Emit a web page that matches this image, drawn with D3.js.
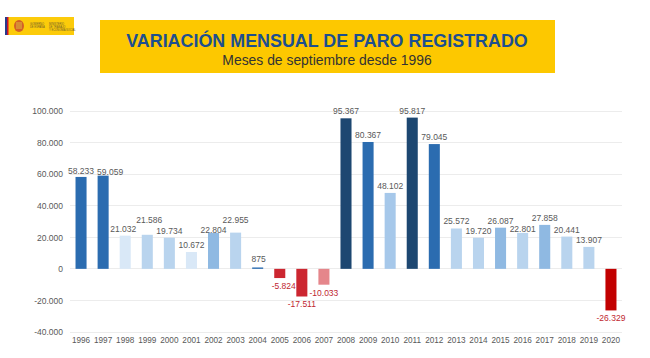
<!DOCTYPE html>
<html>
<head>
<meta charset="utf-8">
<script src="https://cdn.jsdelivr.net/npm/d3@7"></script>
<style>
  html, body { margin: 0; padding: 0; background: #ffffff; }
  svg { display: block; font-family: "Liberation Sans", Arial, Helvetica, sans-serif; }
</style>
</head>
<body>
<svg id="chart" width="650" height="358"></svg>
<script>
// ---- data ----
const years = ["1996","1997","1998","1999","2000","2001","2002","2003","2004","2005","2006","2007","2008","2009","2010","2011","2012","2013","2014","2015","2016","2017","2018","2019","2020"];
const values = [58233, 59059, 21032, 21586, 19734, 10672, 22804, 22955, 875, -5824, -17511, -10033, 95367, 80367, 48102, 95817, 79045, 25572, 19720, 26087, 22801, 27858, 20441, 13907, -26329];
const yTicks = [-40000, -20000, 0, 20000, 40000, 60000, 80000, 100000];
const title = "VARIACIÓN MENSUAL DE PARO REGISTRADO";
const subtitle = "Meses de septiembre desde 1996";

// ---- styling (not data) ----
const shade = {navy:"#1d4771", blue:"#2b6cb0", mid:"#8fb9e2", light:"#b9d4ee", pale:"#d9e8f7", lblue:"#a6c8ea",
               red:"#cc2630", pink:"#e5868b", dred:"#c20000"};
const barShade = ["blue","blue","pale","light","light","pale","mid","light","blue","red","red","pink",
                  "navy","blue","lblue","navy","blue","light","light","mid","light","mid","light","light","dred"];
const labelLift = [ -1, -3, 0, 8, 0, 0, -4, 6, 1, 0, 0, 0, 0, 0, 0, 0, 0, 0, 0, 0, -3, 0, 0, 0, 0];
const labelShift = [0, 7, -2, 2, 0, 0, 0, 0, 1, 4, 0, 0, 0, 0, 0, 0, 0, 0, 0, 0, 0, 0, 0, 0, 0];

const svg = d3.select("#chart");

// logo
const logo = svg.append("g").attr("transform","translate(5,17)");
logo.append("rect").attr("width",69).attr("height",18).attr("fill","#fccb0a");
logo.append("rect").attr("x",0).attr("width",2).attr("height",18).attr("fill","#2a3a8c");
logo.append("rect").attr("x",2).attr("width",1.5).attr("height",18).attr("fill","#c8102e");
logo.append("ellipse").attr("cx",14).attr("cy",9).attr("rx",5).attr("ry",6).attr("fill","#c8452e").attr("opacity",0.8);
logo.append("rect").attr("x",11).attr("y",5).attr("width",6).attr("height",7).attr("fill","#d9a23a").attr("opacity",0.7);
logo.append("text").attr("x",25).attr("y",8).attr("font-size",2.6).attr("fill","#6b5a2a").text("GOBIERNO");
logo.append("text").attr("x",25).attr("y",11).attr("font-size",2.6).attr("fill","#6b5a2a").text("DE ESPAÑA");
logo.append("text").attr("x",44).attr("y",8).attr("font-size",2.6).attr("fill","#6b5a2a").text("MINISTERIO");
logo.append("text").attr("x",44).attr("y",11).attr("font-size",2.6).attr("fill","#6b5a2a").text("DE TRABAJO");
logo.append("text").attr("x",44).attr("y",14).attr("font-size",2.6).attr("fill","#6b5a2a").text("Y ECONOMÍA SOCIAL");

// title box
svg.append("rect").attr("x",100).attr("y",20).attr("width",455).attr("height",53).attr("fill","#fdc800");
svg.append("text").attr("x",327).attr("y",46.5).attr("text-anchor","middle")
  .attr("font-size",17.9).attr("font-weight","bold").attr("fill","#1d4f8f").text(title);
svg.append("text").attr("x",327).attr("y",65).attr("text-anchor","middle")
  .attr("font-size",13.9).attr("fill","#333333").text(subtitle);

// scales
const x = d3.scaleBand().domain(years).range([70, 622]).paddingInner(0.5).paddingOuter(0.25);
const y = d3.scaleLinear().domain([-40000, 100000]).range([332, 111]);
const fmt = v => d3.format(",")(v).replace(/,/g, ".").replace("−", "-");

// gridlines
svg.append("g").selectAll("line").data(yTicks).join("line")
  .attr("x1",70).attr("x2",622).attr("y1",d=>y(d)).attr("y2",d=>y(d))
  .attr("stroke","#ececec").attr("stroke-width",1).attr("shape-rendering","crispEdges");

// y axis labels
const yAxis = d3.axisLeft(y).tickValues(yTicks).tickSize(0).tickPadding(0).tickFormat(fmt);
const ya = svg.append("g").attr("transform","translate(63,0)").call(yAxis);
ya.select(".domain").remove();
ya.selectAll("text").attr("font-size",8.5).attr("fill","#595959").attr("font-family","Liberation Sans, Arial, sans-serif");

// x axis labels
const xAxis = d3.axisBottom(x).tickSize(0).tickPadding(0);
const xa = svg.append("g").attr("transform","translate(0,337)").call(xAxis);
xa.select(".domain").remove();
xa.selectAll("text").attr("font-size",8.2).attr("fill","#595959").attr("font-family","Liberation Sans, Arial, sans-serif");

// bars
svg.append("g").selectAll("rect").data(values).join("rect")
  .attr("x",(d,i)=>x(years[i]))
  .attr("width",x.bandwidth())
  .attr("y",d=>y(Math.max(0,d)))
  .attr("height",d=>Math.abs(y(d)-y(0)))
  .attr("fill",(d,i)=>shade[barShade[i]]);

// value labels
svg.append("g").selectAll("text").data(values).join("text")
  .attr("x",(d,i)=>x(years[i]) + x.bandwidth()/2 + labelShift[i])
  .attr("y",(d,i)=> d >= 0 ? y(d) - 4 - labelLift[i] : y(d) + 11 + labelLift[i])
  .attr("text-anchor","middle")
  .attr("font-size",8.5)
  .attr("fill",d=> d >= 0 ? "#595959" : "#c0262f")
  .text(d=>fmt(d));
</script>
</body>
</html>
